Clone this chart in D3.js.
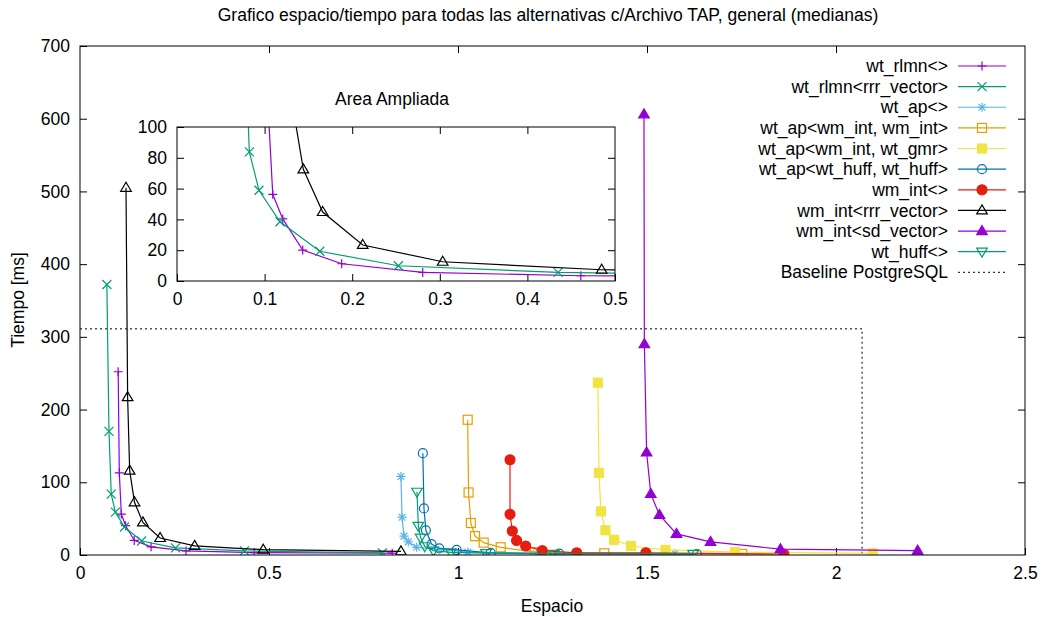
<!DOCTYPE html>
<html lang="es">
<head>
<meta charset="utf-8">
<title>Grafico espacio/tiempo</title>
<script src="https://d3js.org/d3.v7.min.js"></script>
<style>
  body { margin: 0; background: #fff; }
  text { font-family: "Liberation Sans", Arial, sans-serif; font-size: 17.5px; fill: #000; }
  .axis path { display: none; }
  .axis line { stroke: #000; }
</style>
</head>
<body>
<svg id="chart" width="1044" height="617"></svg>
<script>
// values (Espacio, Tiempo [ms])
const names = ["wt_rlmn<>", "wt_rlmn<rrr_vector>", "wt_ap<>", "wt_ap<wm_int, wm_int>",
  "wt_ap<wm_int, wt_gmr>", "wt_ap<wt_huff, wt_huff>", "wm_int<>", "wm_int<rrr_vector>",
  "wm_int<sd_vector>", "wt_huff<>"];
const colors = ["#9400d3", "#009e73", "#56b4e9", "#e69f00", "#f0e442", "#0072b2",
  "#e51e10", "#000000", "#9400d3", "#009e73"];
const markers = ["plus", "cross", "star", "square", "squareFill", "circle",
  "circleFill", "triangle", "triangleFill", "triangleDown"];

const wtRlmnX = [0.101, 0.104, 0.1093, 0.1207, 0.1435, 0.188, 0.2805, 0.461, 0.826];
const wtRlmnY = [252, 113, 56.3, 40.3, 20.1, 11.2, 5.6, 3.4, 2.5];
const wtRlmnRrrX = [0.071, 0.0767, 0.0826, 0.0936, 0.1176, 0.163, 0.2527, 0.435, 0.80];
const wtRlmnRrrY = [372, 170, 83.8, 58.9, 38.5, 19.3, 9.9, 5.6, 3];
const wtApX = [0.849, 0.852, 0.857, 0.8686, 0.8907, 1.026, 1.207, 1.574];
const wtApY = [108, 52, 26, 18, 10.6, 4, 2.5, 2];
const wtApIntIntX = [1.0256, 1.028, 1.034, 1.045, 1.068, 1.113, 1.204, 1.387, 1.752];
const wtApIntIntY = [186, 86, 44, 26, 17, 10.6, 4, 2.3, 1.4];
const wtApIntGmrX = [1.370, 1.373, 1.378, 1.390, 1.413, 1.458, 1.549, 1.733, 2.097];
const wtApIntGmrY = [237, 113, 60, 34, 21, 12.4, 7, 4, 2.3];
const wtApHuffX = [0.907, 0.910, 0.915, 0.930, 0.9506, 0.9964, 1.0865, 1.268, 1.632];
const wtApHuffY = [140, 64, 34, 15, 9, 7, 3, 1.8, 1.4];
const wmIntX = [1.1376, 1.1376, 1.1437, 1.155, 1.179, 1.223, 1.314, 1.497, 1.862];
const wmIntY = [131, 56, 33, 20, 12.4, 6, 3, 3, 1.4];
const wmIntRrrX = [0.1217, 0.126, 0.1314, 0.1442, 0.1663, 0.212, 0.3033, 0.4848, 0.849];
const wmIntRrrY = [505, 217, 116, 72.5, 44.8, 23.4, 12.5, 7.3, 5];
const wmIntSdX = [1.492, 1.493, 1.499, 1.510, 1.533, 1.578, 1.668, 1.853, 2.216];
const wmIntSdY = [606, 290, 141, 84, 55, 29, 18, 8, 6];
const wtHuffX = [0.8915, 0.895, 0.901, 0.912, 0.935, 0.981, 1.074, 1.254, 1.622];
const wtHuffY = [87, 40, 24, 12, 6, 3.5, 2.5, 1.5, 1.5];

const baselineX = [0, 2.069, 2.069];
const baselineY = [311, 311, 0];

const xTicksMain = [0, 0.5, 1, 1.5, 2, 2.5];
const yTicksMain = [0, 100, 200, 300, 400, 500, 600, 700];
const xTicksInset = [0, 0.1, 0.2, 0.3, 0.4, 0.5];
const yTicksInset = [0, 20, 40, 60, 80, 100];

const xsAll = [wtRlmnX, wtRlmnRrrX, wtApX, wtApIntIntX, wtApIntGmrX, wtApHuffX, wmIntX, wmIntRrrX, wmIntSdX, wtHuffX];
const ysAll = [wtRlmnY, wtRlmnRrrY, wtApY, wtApIntIntY, wtApIntGmrY, wtApHuffY, wmIntY, wmIntRrrY, wmIntSdY, wtHuffY];

const series = names.map((n, i) => ({
  name: n, color: colors[i], marker: markers[i],
  points: xsAll[i].map((x, j) => [x, ysAll[i][j]])
}));
const baseline = baselineX.map((x, j) => [x, baselineY[j]]);

const svg = d3.select("#chart");
const fmt = d => d3.format("")(d);

// draws one gnuplot-like marker at 0,0
function drawMarker(g, type, color) {
  const r = 4.5;
  if (type === "plus" || type === "star") {
    g.append("path").attr("d", `M${-r},0H${r}M0,${-r}V${r}`).attr("stroke", color).attr("stroke-width", 1.2);
  }
  if (type === "cross" || type === "star") {
    const c = type === "star" ? r * 0.75 : r;
    g.append("path").attr("d", `M${-c},${-c}L${c},${c}M${-c},${c}L${c},${-c}`).attr("stroke", color).attr("stroke-width", 1.2);
  }
  if (type === "square" || type === "squareFill") {
    g.append("rect").attr("x", -r).attr("y", -r).attr("width", 2 * r).attr("height", 2 * r)
      .attr("fill", type === "squareFill" ? color : "none").attr("stroke", color).attr("stroke-width", 1.2);
  }
  if (type === "circle" || type === "circleFill") {
    g.append("circle").attr("r", type === "circleFill" ? 5 : 4.5)
      .attr("fill", type === "circleFill" ? color : "none").attr("stroke", color).attr("stroke-width", 1.2);
  }
  if (type === "triangle" || type === "triangleFill") {
    g.append("path").attr("d", `M0,${-r - 1}L${r + 0.8},${r - 1}L${-r - 0.8},${r - 1}Z`)
      .attr("fill", type === "triangleFill" ? color : "none").attr("stroke", color).attr("stroke-width", 1.2);
  }
  if (type === "triangleDown") {
    g.append("path").attr("d", `M0,${r + 1}L${r + 0.8},${-r + 1}L${-r - 0.8},${-r + 1}Z`)
      .attr("fill", "none").attr("stroke", color).attr("stroke-width", 1.2);
  }
}

function drawPanel(box, xDomain, yDomain, xTicks, yTicks, id, withBaseline) {
  const x = d3.scaleLinear().domain(xDomain).range([box.left, box.right]);
  const y = d3.scaleLinear().domain(yDomain).range([box.bottom, box.top]);
  const w = box.right - box.left, h = box.bottom - box.top;
  const g = svg.append("g");

  g.append("rect").attr("x", box.left).attr("y", box.top).attr("width", w).attr("height", h).attr("fill", "#fff");

  svg.append("clipPath").attr("id", id).append("rect")
    .attr("x", box.left).attr("y", box.top).attr("width", w).attr("height", h);

  // ticks on four sides, pointing inward
  g.append("g").attr("class", "axis").attr("transform", `translate(0,${box.bottom})`)
    .call(d3.axisBottom(x).tickValues(xTicks).tickSize(-7).tickPadding(12).tickFormat(fmt));
  g.append("g").attr("class", "axis").attr("transform", `translate(0,${box.top})`)
    .call(d3.axisTop(x).tickValues(xTicks.slice(1, -1)).tickSize(-7).tickFormat(""));
  g.append("g").attr("class", "axis").attr("transform", `translate(${box.left},0)`)
    .call(d3.axisLeft(y).tickValues(yTicks).tickSize(-7).tickPadding(10).tickFormat(fmt));
  g.append("g").attr("class", "axis").attr("transform", `translate(${box.right},0)`)
    .call(d3.axisRight(y).tickValues(yTicks.slice(1, -1)).tickSize(-7).tickFormat(""));
  g.selectAll(".axis text").attr("font-size", null).attr("font-family", null);

  const plot = g.append("g").attr("clip-path", `url(#${id})`);
  const line = d3.line().x(d => x(d[0])).y(d => y(d[1]));

  if (withBaseline) {
    plot.append("path").attr("d", line(baseline)).attr("fill", "none")
      .attr("stroke", "#000").attr("stroke-width", 1).attr("stroke-dasharray", "2,3");
  }

  series.forEach(s => {
    plot.append("path").attr("d", line(s.points)).attr("fill", "none")
      .attr("stroke", s.color).attr("stroke-width", 1.2);
    s.points.forEach(p => {
      const mg = plot.append("g").attr("transform", `translate(${x(p[0])},${y(p[1])})`);
      drawMarker(mg, s.marker, s.color);
    });
  });

  g.append("rect").attr("x", box.left).attr("y", box.top).attr("width", w).attr("height", h)
    .attr("fill", "none").attr("stroke", "#000").attr("stroke-width", 1);
  return g;
}

// main plot
drawPanel({left: 80, right: 1025, top: 46, bottom: 555}, [0, 2.5], [0, 700],
  xTicksMain, yTicksMain, "clipMain", true);

// legend
const legend = svg.append("g");
const legendRows = names.concat(["Baseline PostgreSQL"]);
legendRows.forEach((n, i) => {
  const yy = 66 + i * 20.63;
  legend.append("text").attr("x", 948).attr("y", yy).attr("dy", "0.35em")
    .attr("text-anchor", "end").text(n);
  if (i < names.length) {
    legend.append("line").attr("x1", 958).attr("x2", 1006).attr("y1", yy).attr("y2", yy)
      .attr("stroke", colors[i]).attr("stroke-width", 1.2);
    drawMarker(legend.append("g").attr("transform", `translate(982,${yy})`), markers[i], colors[i]);
  } else {
    legend.append("line").attr("x1", 958).attr("x2", 1006).attr("y1", yy).attr("y2", yy)
      .attr("stroke", "#000").attr("stroke-width", 1).attr("stroke-dasharray", "2,3");
  }
});

// inset
drawPanel({left: 177, right: 615, top: 127, bottom: 281}, [0, 0.5], [0, 100],
  xTicksInset, yTicksInset, "clipInset", false);
svg.append("text").attr("x", 392).attr("y", 99).attr("dy", "0.35em")
  .attr("text-anchor", "middle").text("Area Ampliada");

// titles
svg.append("text").attr("x", 548).attr("y", 15).attr("dy", "0.35em").attr("text-anchor", "middle")
  .text("Grafico espacio/tiempo para todas las alternativas c/Archivo TAP, general (medianas)");
svg.append("text").attr("x", 552).attr("y", 606).attr("dy", "0.35em").attr("text-anchor", "middle")
  .text("Espacio");
svg.append("text").attr("transform", "translate(18,300) rotate(-90)").attr("dy", "0.35em")
  .attr("text-anchor", "middle").text("Tiempo [ms]");
</script>
</body>
</html>
